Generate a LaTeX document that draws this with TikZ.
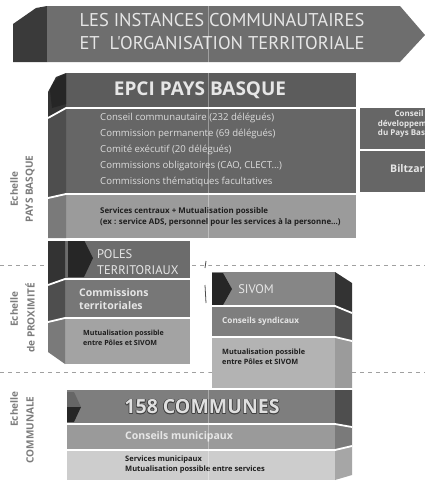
\documentclass[tikz,border=0pt]{standalone}
\usepackage{fontspec}
\setmainfont{Open Sans}
\newfontfamily\titlefont{PT Sans}
\definecolor{titlebg}{HTML}{6E6E6E}
\definecolor{titletab}{HTML}{3A3A3A}
\definecolor{epcihead}{HTML}{5C5C5C}
\definecolor{epcibody}{HTML}{666666}
\definecolor{epciserv}{HTML}{9B9B9B}
\definecolor{sidedark}{HTML}{333333}
\definecolor{sidemid}{HTML}{4E4E4E}
\definecolor{sidelight}{HTML}{7A7A7A}
\definecolor{poleshead}{HTML}{6C6C6C}
\definecolor{polescomm}{HTML}{777777}
\definecolor{polesmut}{HTML}{A3A3A3}
\definecolor{sivomhead}{HTML}{868686}
\definecolor{sivomcons}{HTML}{7E7E7E}
\definecolor{sivommut}{HTML}{B3B3B3}
\definecolor{comhead}{HTML}{7E7E7E}
\definecolor{comcons}{HTML}{9A9A9A}
\definecolor{comserv}{HTML}{CDCDCD}
\definecolor{txtlight}{HTML}{E6E6E6}
\definecolor{txtdark}{HTML}{1E1E1E}
\definecolor{labelgray}{HTML}{7C7C7C}
\definecolor{dashgray}{HTML}{A0A0A0}
\begin{document}
\begin{tikzpicture}[x=1pt,y=-1pt,
  sepline/.style={white, line width=1.8pt},
  lbl/.style={text=labelgray, font=\bfseries\fontsize{10}{12}\selectfont, rotate=90, inner sep=0pt},
  lighthead/.style={text=txtlight, inner sep=0pt},
  smalldark/.style={text=txtdark, font=\bfseries\fontsize{7.6}{10}\selectfont, align=left, anchor=west, inner sep=0pt},
  scaledash/.style={dashgray, dashed, dash pattern=on 4pt off 4pt, line width=0.7pt},
]
\useasboundingbox (0,0) rectangle (425,488);
\clip (0,0) rectangle (425,488);
\fill[white] (0,0) rectangle (425,488);

% dashed scale separators
\coordinate (d1a) at (0,265); \coordinate (d1b) at (425,265);
\coordinate (d2a) at (0,372); \coordinate (d2b) at (425,372);
\draw[scaledash] (d1a) -- (d1b);
\draw[scaledash] (d2a) -- (d2b);

% ---------- title banner ----------
\fill[titletab] (13,24) -- (36,8) -- (47,6) -- (47,62) -- (13,62) -- cycle;
\fill[titlebg] (47,6) -- (400,6) -- (425,35) -- (400,62) -- (47,62) -- cycle;
\node[lighthead, font=\titlefont\fontsize{18.5}{23}\selectfont, align=center] (title) at (222,32)
  {LES INSTANCES COMMUNAUTAIRES\\ET\ \ L'ORGANISATION TERRITORIALE};

% ---------- EPCI ----------
\fill[epcihead] (66,73) rectangle (356,108);
\fill[epcibody] (66,108) rectangle (356,194);
\fill[epciserv] (66,194) rectangle (356,238);
\fill[sidedark] (48,92) -- (56,77) -- (66,73) -- (66,108) -- (48,118) -- cycle;
\fill[sidemid] (48,118) -- (66,108) -- (66,194) -- (48,198) -- cycle;
\fill[sidelight] (48,198) -- (66,194) -- (66,238) -- (48,238) -- cycle;
\fill[black!85] (50,90) .. controls (54,80) and (60,75) .. (66,74) -- (66,104) -- (52,108) -- cycle;
\draw[sepline] (48,118) -- (66,108) -- (356,108);
\draw[sepline] (48,198) -- (66,194) -- (356,194);
\node[lighthead, font=\bfseries\fontsize{19}{21}\selectfont] (epci) at (200,90) {EPCI PAYS BASQUE};
\node[text=txtlight!90!gray, font=\fontsize{9.6}{15.8}\selectfont, align=left, anchor=west, inner sep=0pt] (epciitems) at (100,150)
  {Conseil communautaire (232 délégués)\\Commission permanente (69 délégués)\\Comité exécutif (20 délégués)\\Commissions obligatoires (CAO, CLECT...)\\Commissions thématiques facultatives};
\node[smalldark, font=\bfseries\fontsize{7.9}{11}\selectfont] (epciserv) at (100,216.5)
  {Services centraux + Mutualisation possible\\(ex : service ADS, personnel pour les services à la personne...)};

% ---------- Conseil de développement / Biltzar ----------
\fill[epcibody] (360,108) rectangle (430,192);
\draw[sepline] (360,150) -- (430,150);
\node[lighthead, font=\bfseries\fontsize{8}{9.2}\selectfont, align=center] (cdev) at (409,124)
  {Conseil\\développement\\du Pays Basque};
\node[lighthead, font=\bfseries\fontsize{10.5}{12}\selectfont, anchor=west] (biltzar) at (390,169) {Biltzar};

% ---------- POLES TERRITORIAUX ----------
\fill[poleshead] (65,240) rectangle (190,279);
\fill[polescomm] (65,279) rectangle (190,318);
\fill[polesmut] (65,318) rectangle (190,364);
\fill[sidedark] (48,240) -- (65,240) -- (65,279) -- (48,285) -- cycle;
\fill[sidemid] (48,285) -- (65,279) -- (65,318) -- (48,322) -- cycle;
\fill[sidelight] (48,322) -- (65,318) -- (65,364) -- (48,352) -- cycle;
\fill[black!85] (68,240) -- (84,240) -- (93,258) -- (84,277) -- (68,277) -- cycle;
\draw[sepline] (48,240) -- (190,240);
\draw[sepline] (48,285) -- (65,279) -- (190,279);
\draw[sepline] (48,322) -- (65,318) -- (190,318);
\node[lighthead, font=\titlefont\fontsize{12.5}{16}\selectfont, align=left, anchor=west] (poles) at (97,262) {POLES\\TERRITORIAUX};
\node[lighthead, font=\bfseries\fontsize{10.5}{13}\selectfont, align=left, anchor=west] (pcomm) at (79,299) {Commissions\\territoriales};
\node[smalldark, font=\bfseries\fontsize{7.1}{9.5}\selectfont] (pmut) at (83,338) {Mutualisation possible\\entre Pôles et SIVOM};

% small marks between POLES and SIVOM
\draw[black!70, line width=0.8pt] (206,261) -- (205,268);
\draw[black!70, line width=0.8pt] (205,285) -- (206,303);

% ---------- SIVOM ----------
\fill[sivomhead] (212,272) rectangle (335,306);
\fill[sivomcons] (212,306) rectangle (335,337);
\fill[sivommut] (212,337) rectangle (335,388);
\fill[sidedark] (335,272) -- (352,283) -- (352,313) -- (335,306) -- cycle;
\fill[sidemid] (335,306) -- (352,313) -- (352,341) -- (335,337) -- cycle;
\fill[epciserv] (335,337) -- (352,341) -- (352,388) -- (335,388) -- cycle;
\fill[black!85] (212,273) -- (223,273) -- (232,289) -- (223,305) -- (212,305) -- cycle;
\draw[sepline] (212,306) -- (335,306) -- (352,313);
\draw[sepline] (212,337) -- (335,337) -- (352,341);
\node[lighthead, font=\titlefont\fontsize{12.5}{15}\selectfont] (sivom) at (256,289) {SIVOM};
\node[lighthead, font=\bfseries\fontsize{8.2}{10}\selectfont, anchor=west] (scons) at (222,321) {Conseils syndicaux};
\node[smalldark, font=\bfseries\fontsize{7.3}{9.5}\selectfont] (smut) at (222,357) {Mutualisation possible\\entre Pôles et SIVOM};

% ---------- 158 COMMUNES ----------
\fill[comhead] (67,390) rectangle (335,424);
\fill[comcons] (67,424) rectangle (335,450);
\fill[comserv] (67,450) rectangle (335,480);
\fill[sidemid] (335,390) -- (352,390) -- (352,427) -- (335,424) -- cycle;
\fill[sidelight] (335,424) -- (352,427) -- (352,446) -- (335,450) -- cycle;
\fill[black!35] (335,450) -- (352,446) -- (352,475) -- (335,480) -- cycle;
\fill[black!60] (67,392) -- (74,392) -- (81,407) -- (67,407) -- cycle;
\fill[black!85] (67,407) -- (81,407) -- (74,422) -- (67,422) -- cycle;
\draw[sepline] (67,389) -- (352,389);
\draw[sepline] (67,424) -- (335,424) -- (352,427);
\draw[sepline] (67,450) -- (335,450) -- (352,446);
\foreach \dx/\dy [count=\i] in {-0.7/0,0.7/0,0/-0.7,0/0.7,-0.5/-0.5,0.5/0.5,-0.5/0.5,0.5/-0.5}
  \node[text=black!75, font=\bfseries\fontsize{19.5}{22}\selectfont, inner sep=0pt] (comshadow\i) at (202+\dx,407+\dy) {158 COMMUNES};
\node[text=black!12, font=\bfseries\fontsize{19.5}{22}\selectfont, inner sep=0pt] (communes) at (202,407) {158 COMMUNES};
\node[lighthead, font=\bfseries\fontsize{10.5}{12}\selectfont, anchor=west] (ccons) at (125,437) {Conseils municipaux};
\node[smalldark, font=\bfseries\fontsize{7.5}{10}\selectfont] (cserv) at (125,464.5) {Services municipaux\\Mutualisation possible entre services};

% fold of the scanned page
\coordinate (fa) at (208,6); \coordinate (fb) at (208,480);
\draw[white, opacity=0.35, line width=0.8pt] (fa) -- (fb);

% ---------- scale labels ----------
\node[lbl] (e1) at (14,189) {Echelle};
\node[lbl] (e1b) at (30,189) {PAYS BASQUE};
\node[lbl] (e2) at (14,309) {Echelle};
\node[lbl] (e2b) at (30,318) {de PROXIMITÉ};
\node[lbl] (e3) at (14,409) {Echelle};
\node[lbl] (e3b) at (30,430) {COMMUNALE};
\end{tikzpicture}
\end{document}
